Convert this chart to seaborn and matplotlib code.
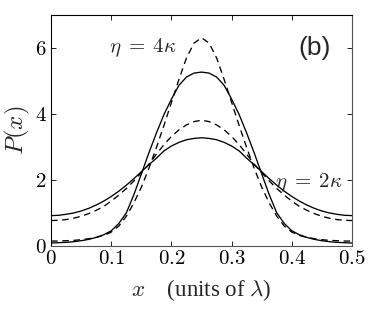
import matplotlib
matplotlib.use("Agg")
import matplotlib.pyplot as plt
import seaborn as sns
import pandas as pd

# x positions (units of lambda)
x = [0.000, 0.0125, 0.025, 0.0375, 0.050, 0.0625, 0.075, 0.0875, 0.100, 0.1125,
     0.125, 0.1375, 0.150, 0.1625, 0.175, 0.1875, 0.200, 0.2125, 0.225, 0.2375,
     0.250, 0.2625, 0.275, 0.2875, 0.300, 0.3125, 0.325, 0.3375, 0.350, 0.3625,
     0.375, 0.3875, 0.400, 0.4125, 0.425, 0.4375, 0.450, 0.4625, 0.475, 0.4875, 0.500]

# eta = 4 kappa, solid
p4_solid = [0.09, 0.10, 0.11, 0.13, 0.16, 0.20, 0.26, 0.34, 0.46, 0.68,
            1.00, 1.55, 2.18, 2.82, 3.42, 3.98, 4.45, 4.87, 5.12, 5.24,
            5.27, 5.24, 5.12, 4.87, 4.45, 3.98, 3.42, 2.82, 2.18, 1.55,
            1.00, 0.68, 0.46, 0.34, 0.26, 0.20, 0.16, 0.13, 0.11, 0.10, 0.09]

# eta = 4 kappa, dashed
p4_dashed = [0.15, 0.15, 0.16, 0.17, 0.19, 0.22, 0.26, 0.32, 0.42, 0.60,
             0.90, 1.30, 1.78, 2.35, 2.98, 3.65, 4.35, 5.05, 5.70, 6.15,
             6.31, 6.15, 5.70, 5.05, 4.35, 3.65, 2.98, 2.35, 1.78, 1.30,
             0.90, 0.60, 0.42, 0.32, 0.26, 0.22, 0.19, 0.17, 0.16, 0.15, 0.15]

# eta = 2 kappa, solid
p2_solid = [0.92, 0.93, 0.96, 1.00, 1.06, 1.14, 1.24, 1.36, 1.50, 1.66,
            1.84, 2.04, 2.25, 2.46, 2.66, 2.88, 3.03, 3.14, 3.22, 3.26,
            3.28, 3.26, 3.22, 3.14, 3.03, 2.88, 2.66, 2.46, 2.25, 2.04,
            1.84, 1.66, 1.50, 1.36, 1.24, 1.14, 1.06, 1.00, 0.96, 0.93, 0.92]

# eta = 2 kappa, dashed
p2_dashed = [0.77, 0.78, 0.80, 0.84, 0.90, 0.98, 1.08, 1.20, 1.36, 1.54,
             1.74, 1.97, 2.22, 2.48, 2.78, 3.07, 3.32, 3.52, 3.67, 3.77,
             3.81, 3.77, 3.67, 3.52, 3.32, 3.07, 2.78, 2.48, 2.22, 1.97,
             1.74, 1.54, 1.36, 1.20, 1.08, 0.98, 0.90, 0.84, 0.80, 0.78, 0.77]

xticks = [0, 0.1, 0.2, 0.3, 0.4, 0.5]
xticklabels = ["0", "0.1", "0.2", "0.3", "0.4", "0.5"]
yticks = [0, 2, 4, 6]
yticklabels = ["0", "2", "4", "6"]

sns.set_style("ticks")
serif = ["Liberation Serif", "DejaVu Serif"]
plt.rcParams["font.family"] = serif
plt.rcParams["mathtext.fontset"] = "cm"

df = pd.DataFrame({"x": x, "s4": p4_solid, "d4": p4_dashed,
                   "s2": p2_solid, "d2": p2_dashed})

fig = plt.figure(figsize=(3.71, 3.10), dpi=100)
ax = fig.add_axes([0.1375, 0.2065, 0.8115, 0.7451])

dash = (0, (5, 3.5))
sns.lineplot(data=df, x="x", y="s2", color="black", lw=0.95, ax=ax)
sns.lineplot(data=df, x="x", y="d2", color="black", lw=0.95, linestyle=dash, ax=ax)
sns.lineplot(data=df, x="x", y="s4", color="black", lw=0.95, ax=ax)
sns.lineplot(data=df, x="x", y="d4", color="black", lw=0.95, linestyle=dash, ax=ax)

ax.set_xlim(0, 0.5)
ax.set_ylim(0, 7)
ax.set_xticks(xticks)
ax.set_xticklabels(["$%s$" % t for t in xticklabels], fontsize=15)
ax.set_yticks(yticks)
ax.set_yticklabels(["$%s$" % t for t in yticklabels], fontsize=15)
ax.tick_params(direction="in", length=3.5, width=0.6, top=True, right=True,
               pad=3, colors="black")
for s in ["left", "top"]:
    ax.spines[s].set_color("black")
for s in ["right", "bottom"]:
    ax.spines[s].set_color("#555555")
for s in ax.spines.values():
    s.set_linewidth(0.8)

ax.set_xlabel(r"$x$    (units of $\lambda$)", fontsize=16.5, labelpad=6, family=serif)
ax.set_ylabel(r"$P(x)$", fontsize=18, labelpad=2)

ax.text(0.153, 6.0, r"$\eta\;=\;4\kappa$", fontsize=15, ha="center", va="center")
ax.text(0.428, 1.93, r"$\eta\;=\;2\kappa$", fontsize=15, ha="center", va="center")
ax.text(0.437, 6.0, "(b)", fontsize=19, ha="center", va="center",
        family=["Liberation Sans", "DejaVu Sans"])

fig.savefig("out.png", dpi=100)
